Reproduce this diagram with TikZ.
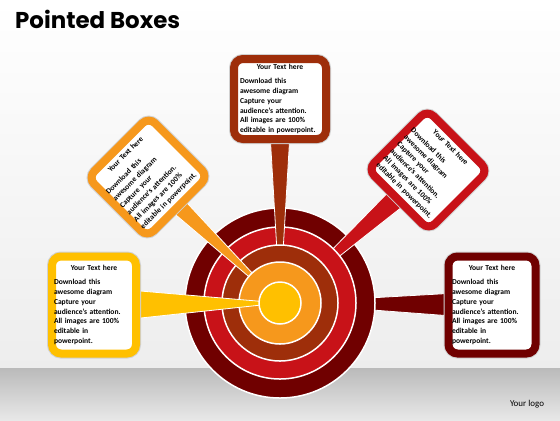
\documentclass[tikz,border=0pt]{standalone}
\usepackage{fontspec}
\setmainfont{Carlito}
\newfontfamily\titlefont{Poppins}
\usetikzlibrary{calc}

\definecolor{ringY}{RGB}{255,192,0}
\definecolor{ringO}{RGB}{246,152,28}
\definecolor{ringB}{RGB}{158,46,10}
\definecolor{ringR}{RGB}{200,18,24}
\definecolor{ringM}{RGB}{112,0,0}

\newcommand{\yourtext}{\makebox[\linewidth]{Your Text here}\\[4.5bp]}

\begin{document}
\begin{tikzpicture}[x=1bp, y=-1bp,
   ring/.style={fill=#1, draw=white, line width=1.5bp},
   stem/.style={fill=#1, draw=white, line width=0.8bp},
   pbox/.style={draw=#1, fill=white, line width=8bp, rounded corners=9bp,
      inner sep=1bp, text width=80bp, align=left,
      font=\fontsize{7.6}{9.8}\selectfont\bfseries,
      preaction={draw=black!18, line width=10bp}}]

   \useasboundingbox (0,0) rectangle (560,420);

   % 背景
   \fill [top color=white, bottom color=black!7] (0,0) rectangle (560,368);
   \fill [top color=black!27, bottom color=black!9] (0,368) rectangle (560,420);

   % タイトル
   \node [anchor=base west, inner sep=0pt, font=\titlefont\bfseries\fontsize{23}{23}\selectfont] (title) at (15,28) {Pointed Boxes};
   \node [font=\fontsize{9}{9}\selectfont] (logo) at (527,404) {Your logo};

   % 吹き出しの位置
   \coordinate (c) at (280,303);
   \coordinate (tpos) at (280,99);
   \coordinate (lbpos) at (94,305);
   \coordinate (rbpos) at (492,305);
   \coordinate (ltpos) at (148,177);
   \coordinate (rtpos) at (428,170);

   % 同心円と柄
   \filldraw [stem=ringM] ($(rbpos)!14bp!90:(c)$) -- ($(rbpos)!14bp!-90:(c)$) -- (c) -- cycle;
   \filldraw [ring=ringM] (c) circle [radius=95bp];
   \filldraw [stem=ringR] ($(rtpos)!13bp!90:(c)$) -- ($(rtpos)!13bp!-90:(c)$) -- (c) -- cycle;
   \filldraw [ring=ringR] (c) circle [radius=76bp];
   \filldraw [stem=ringB] ($(tpos)!12bp!90:(c)$) -- ($(tpos)!12bp!-90:(c)$) -- (c) -- cycle;
   \filldraw [ring=ringB] (c) circle [radius=58bp];
   \filldraw [stem=ringO] ($(ltpos)!11bp!90:(c)$) -- ($(ltpos)!11bp!-90:(c)$) -- (c) -- cycle;
   \filldraw [ring=ringO] (c) circle [radius=41bp];
   \filldraw [stem=ringY] ($(lbpos)!18bp!90:(c)$) -- ($(lbpos)!18bp!-90:(c)$) -- (c) -- cycle;
   \filldraw [ring=ringY] (c) circle [radius=21bp];

   % 吹き出し
   \node [pbox=ringB, minimum width=92bp, minimum height=80bp] (tbox) at (tpos)
      {\yourtext Download this\\ awesome diagram\\ Capture your\\ audience's attention.\\ All images are 100\%\\ editable in powerpoint.};
   \node [pbox=ringY, minimum width=84bp, minimum height=97bp] (lbbox) at (lbpos)
      {\yourtext Download this\\ awesome diagram\\ Capture your\\ audience's attention.\\ All images are 100\%\\ editable in\\ powerpoint.};
   \node [pbox=ringM, minimum width=87bp, minimum height=97bp] (rbbox) at (rbpos)
      {\yourtext Download this\\ awesome diagram\\ Capture your\\ audience's attention.\\ All images are 100\%\\ editable in\\ powerpoint.};
   \node [pbox=ringO, minimum width=86bp, minimum height=84bp, rotate=45] (ltbox) at (ltpos)
      {\yourtext Download this\\ awesome diagram\\ Capture your\\ audience's attention.\\ All images are 100\%\\ editable in powerpoint.};
   \node [pbox=ringR, minimum width=86bp, minimum height=84bp, rotate=-45] (rtbox) at (rtpos)
      {\yourtext Download this\\ awesome diagram\\ Capture your\\ audience's attention.\\ All images are 100\%\\ editable in powerpoint.};

\end{tikzpicture}
\end{document}
